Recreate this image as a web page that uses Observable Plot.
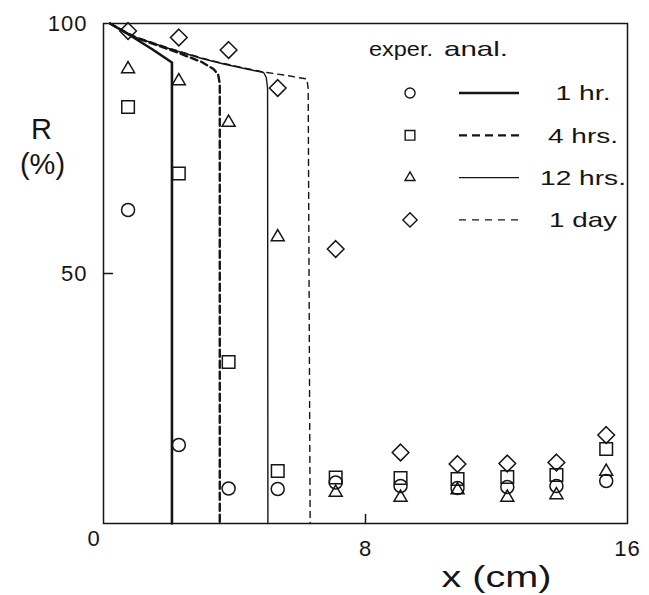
<!DOCTYPE html>
<html><head><meta charset="utf-8">
<script src="https://cdn.jsdelivr.net/npm/d3@7"></script>
<script src="https://cdn.jsdelivr.net/npm/@observablehq/plot@0.6"></script>
<style>
body{margin:0;background:#fff;}
#chart{width:649px;height:595px;}
</style></head><body><div id="chart"></div>
<script>
// ---- data ----
const xExp   = [0.75, 2.3, 3.82, 5.32, 7.09, 9.07, 10.81, 12.33, 13.83, 15.35];
const r1hr   = [62.7, 15.7, 7.0, 6.9, 8.2, 7.5, 7.1, 7.3, 7.5, 8.5];
const r4hr   = [83.3, 70.0, 32.3, 10.5, 9.2, 9.1, 8.9, 9.3, 9.7, 14.9];
const r12hr  = [90.9, 88.5, 80.2, 57.3, 6.2, 5.2, 6.7, 5.2, 5.7, 10.4];
const r1day  = [98.5, 97.2, 94.7, 87.1, 54.9, 14.2, 11.9, 12.0, 12.2, 17.7];

const ana1hrX  = [0.2, 0.82, 1.5, 2.09, 2.09];
const ana1hrR  = [100, 97.6, 94.8, 92.2, 0];
const ana4hrX  = [0.2, 0.92, 2.14, 3.0, 3.36, 3.5, 3.55, 3.55];
const ana4hrR  = [100, 97.3, 94.5, 92.3, 90.9, 89.8, 88, 0];
const ana12hrX = [0.2, 1.0, 2.04, 3.0, 3.67, 4.3, 4.89, 4.97, 5.01, 5.02];
const ana12hrR = [100, 97.2, 94.9, 93.0, 91.9, 91.0, 90.2, 89.2, 87, 0];
const ana1dayX = [0.2, 1.0, 2.04, 3.0, 3.67, 4.89, 5.6, 6.21, 6.25, 6.31];
const ana1dayR = [100, 97.3, 95.0, 93.1, 92.0, 90.3, 89.6, 88.9, 87, 0];

const seriesLabels  = ["1 hr.", "4 hrs.", "12 hrs.", "1 day"];
const legendHeaders = ["exper.", "anal."];
const xTicks = [8, 16];
const yTicks = [50, 100];
const originLabel = ["0"];
const yTitle = ["R", "(%)"];
const xTitle = ["x (cm)"];

// ---- build tables ----
const pts = (ys) => ys.map((y, i) => ({x: xExp[i], y}));
const line = (xs, ys) => xs.map((x, i) => ({x, y: ys[i]}));
const INK = "#151515";
const FONT = "Liberation Sans, Arial, Helvetica, sans-serif";

const dotStyle = {x: "x", y: "y", stroke: INK, fill: "none", strokeWidth: 1.5};
const tickShape = {draw(ctx, l) { ctx.moveTo(0, 0); ctx.lineTo(0, -l); }};
const titleStyle = {textAnchor: "middle", lineAnchor: "middle", text: d => d};

const plot = Plot.plot({
  width: 649, height: 595,
  marginLeft: 103, marginRight: 22, marginTop: 23, marginBottom: 72,
  x: {domain: [0, 16]},
  y: {domain: [0, 100]},
  style: {fontFamily: FONT, fontSize: "22px", color: INK, background: "white"},
  marks: [
    Plot.axisX(xTicks, {tickSize: 0, tickPadding: 17, fontSize: 22, label: null, stroke: null}),
    Plot.axisY(yTicks, {tickSize: 0, tickPadding: 16, fontSize: 22, label: null, stroke: null}),
    Plot.text(originLabel, {x: () => 0, y: () => 0, text: d => d, dx: -10, dy: 15, fontSize: 22}),
    Plot.vector(xTicks.slice(0, 1), {x: d => d, frameAnchor: "bottom", length: 9, anchor: "start", rotate: 0, shape: tickShape, stroke: INK, strokeWidth: 1.5}),
    Plot.vector(yTicks.slice(0, 1), {y: d => d, frameAnchor: "left", length: 9, anchor: "start", rotate: 90, shape: tickShape, stroke: INK, strokeWidth: 1.5}),
    Plot.text(yTitle.slice(0, 1), {...titleStyle, frameAnchor: "top-left", dx: -62, dy: 106, fontSize: 29}),
    Plot.text(yTitle.slice(1), {...titleStyle, frameAnchor: "top-left", dx: -61, dy: 141, fontSize: 29}),
    Plot.text(xTitle, {...titleStyle, frameAnchor: "bottom", dx: 131, dy: 54, fontSize: 30}),
    Plot.line(line(ana1hrX, ana1hrR), {x: "x", y: "y", stroke: INK, strokeWidth: 2.6}),
    Plot.line(line(ana4hrX, ana4hrR), {x: "x", y: "y", stroke: INK, strokeWidth: 2.4, strokeDasharray: "7,4"}),
    Plot.line(line(ana12hrX, ana12hrR), {x: "x", y: "y", stroke: INK, strokeWidth: 1.4}),
    Plot.line(line(ana1dayX, ana1dayR), {x: "x", y: "y", stroke: INK, strokeWidth: 1.4, strokeDasharray: "6,5"}),
    Plot.dot(pts(r12hr), {...dotStyle, symbol: "triangle2", r: 6.2}),
    Plot.dot(pts(r4hr), {...dotStyle, symbol: "square2", r: 8.0}),
    Plot.dot(pts(r1hr), {...dotStyle, symbol: "circle", r: 6.5}),
    Plot.dot(pts(r1day), {...dotStyle, symbol: "diamond2", r: 7.5}),
    Plot.frame({stroke: INK, strokeWidth: 1.5})
  ]
});
document.getElementById("chart").appendChild(plot);

const svg = d3.select(plot);
svg.selectAll('[aria-label="x-axis tick label"], [aria-label="y-axis tick label"]').attr("letter-spacing", 1);
// horizontally extended lettering of the x-axis title
svg.selectAll("text").filter(function () { return this.textContent === xTitle[0]; })
  .attr("textLength", 110).attr("lengthAdjust", "spacingAndGlyphs");

// ---- legend ----
const lg = svg.append("g").attr("font-family", FONT).attr("font-size", 21).attr("fill", INK);
const hdrX = [401, 476], hdrW = [64, 64];
legendHeaders.forEach((h, i) => {
  lg.append("text").attr("x", hdrX[i]).attr("y", 49).attr("dy", "0.35em")
    .attr("text-anchor", "middle").attr("textLength", hdrW[i]).attr("lengthAdjust", "spacingAndGlyphs").text(h);
});
const legSyms = [[d3.symbolCircle, 80], [d3.symbolSquare2, 120], [d3.symbolTriangle2, 70], [d3.symbolDiamond2, 130]];
const legLines = [{w: 2.6, dash: null}, {w: 2.2, dash: "8,5"}, {w: 1.4, dash: null}, {w: 1.4, dash: "7,6"}];
const labW = [55, 70, 86, 68];
seriesLabels.forEach((lab, i) => {
  const y = 93 + i * 42.3;
  lg.append("path").attr("d", d3.symbol(legSyms[i][0], legSyms[i][1])())
    .attr("transform", `translate(410,${y})`).attr("fill", "none").attr("stroke", INK).attr("stroke-width", 1.4);
  lg.append("line").attr("x1", 459).attr("x2", 519).attr("y1", y).attr("y2", y)
    .attr("stroke", INK).attr("stroke-width", legLines[i].w).attr("stroke-dasharray", legLines[i].dash);
  lg.append("text").attr("x", 583).attr("y", y).attr("dy", "0.35em").attr("text-anchor", "middle")
    .attr("textLength", labW[i]).attr("lengthAdjust", "spacingAndGlyphs").text(lab);
});
</script></body></html>
